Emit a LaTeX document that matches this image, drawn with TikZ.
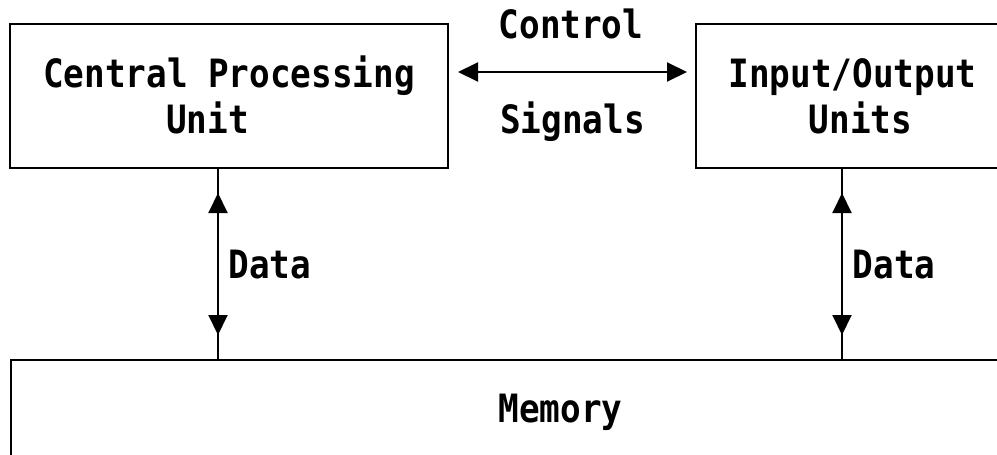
\documentclass[tikz,border=0pt]{standalone}
\usepackage{fontspec}
\newfontfamily\dmono[FakeStretch=0.88]{DejaVu Sans Mono}
\usetikzlibrary{arrows.meta}
\tikzset{
  box/.style={draw=black, line width=2pt, rectangle, inner sep=0pt},
  lbl/.style={inner sep=0pt, anchor=base, font=\dmono\bfseries\fontsize{39}{47}\selectfont},
  conn/.style={draw=black, line width=2pt},
  dbl/.style={draw=black, line width=2pt, {Triangle[length=20pt,width=19pt]}-{Triangle[length=20pt,width=19pt]}}
}
\begin{document}
\begin{tikzpicture}[x=1pt,y=-1pt]
\useasboundingbox (0,0) rectangle (997,455);
\clip (0,0) rectangle (997,455);
\fill[white] (0,0) rectangle (997,455);
% boxes
\node[box, minimum width=438pt, minimum height=144pt] (cpu) at (229,96) {};
\node[box, minimum width=314pt, minimum height=144pt] (io) at (853,96) {};
\node[box, minimum width=999pt, minimum height=110pt] (mem) at (510.5,415) {};
% texts
\node[lbl] (t1) at (229,87) {Central Processing};
\node[lbl] (t2) at (207.5,133) {Unit};
\node[lbl] (t3) at (571,38) {Control};
\node[lbl] (t4) at (572.5,133) {Signals};
\node[lbl] (t5) at (852.5,87) {Input/Output};
\node[lbl] (t6) at (860.5,133) {Units};
\node[lbl] (t7) at (270,278) {Data};
\node[lbl] (t8) at (894,278) {Data};
\node[lbl] (t9) at (560.5,422) {Memory};
% connectors
\coordinate (xl) at (218,0);
\coordinate (xr) at (842,0);
\draw[conn] (cpu.south -| xl) -- (mem.north -| xl);
\draw[conn] (io.south -| xr) -- (mem.north -| xr);
\coordinate (al1) at (218,193);
\coordinate (al2) at (218,335);
\coordinate (ar1) at (842,193);
\coordinate (ar2) at (842,335);
\draw[dbl] (al1) -- (al2);
\draw[dbl] (ar1) -- (ar2);
\coordinate (ca) at (458,72);
\coordinate (cb) at (687,72);
\draw[dbl] (ca) -- (cb);
\end{tikzpicture}
\end{document}
